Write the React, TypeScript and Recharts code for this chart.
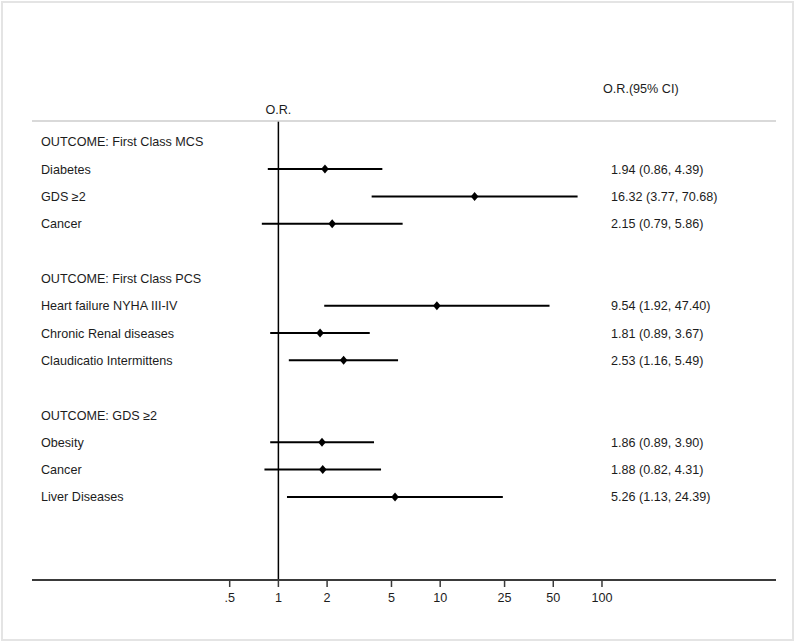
import React from 'react';
import {
  ScatterChart,
  Scatter,
  XAxis,
  YAxis,
  ErrorBar,
  ReferenceLine,
  Customized,
} from 'recharts';

const rowLabels = [
  'OUTCOME: First Class MCS',
  'Diabetes',
  'GDS ≥2',
  'Cancer',
  '',
  'OUTCOME: First Class PCS',
  'Heart failure NYHA III-IV',
  'Chronic Renal diseases',
  'Claudicatio Intermittens',
  '',
  'OUTCOME: GDS ≥2',
  'Obesity',
  'Cancer',
  'Liver Diseases',
];

const oddsRatios = [null, 1.94, 16.32, 2.15, null, null, 9.54, 1.81, 2.53, null, null, 1.86, 1.88, 5.26];
const ciLower = [null, 0.86, 3.77, 0.79, null, null, 1.92, 0.89, 1.16, null, null, 0.89, 0.82, 1.13];
const ciUpper = [null, 4.39, 70.68, 5.86, null, null, 47.4, 3.67, 5.49, null, null, 3.9, 4.31, 24.39];

const xTicks = [0.5, 1, 2, 5, 10, 25, 50, 100];

const FONT = '"Liberation Sans", Arial, Helvetica, sans-serif';
const TEXT = '#1c1c1c';
const FS = 12.6;

const points = rowLabels
  .map((label, i) => ({ row: i, label, or: oddsRatios[i], lo: ciLower[i], hi: ciUpper[i] }))
  .filter((d) => d.or != null) as { row: number; label: string; or: number; lo: number; hi: number }[];

const fmt = (v: number) => v.toFixed(2);

// left label + right "O.R. (CI)" text, one tick per row
const RowTick = (props: any) => {
  const i = props.payload.value;
  const or = oddsRatios[i];
  return (
    <g fontFamily={FONT} fontSize={FS} fill={TEXT}>
      <text x={41} y={props.y} dy="0.36em" textAnchor="start">
        {rowLabels[i]}
      </text>
      {or != null && (
        <text x={611} y={props.y} dy="0.36em" textAnchor="start">
          {`${fmt(or)} (${fmt(ciLower[i] as number)}, ${fmt(ciUpper[i] as number)})`}
        </text>
      )}
    </g>
  );
};

const Diamond = (props: any) => {
  const { cx, cy } = props;
  return <polygon points={`${cx - 3.8},${cy} ${cx},${cy - 4.5} ${cx + 3.8},${cy} ${cx},${cy + 4.5}`} fill="#000" />;
};

const Header = () => (
  <text x={603} y={88} dy="0.36em" fontFamily={FONT} fontSize={FS} fill={TEXT}>
    O.R.(95% CI)
  </text>
);

export default function App() {
  return (
    <div style={{ position: 'absolute', left: 0, top: 0, width: 800, height: 643, background: '#fff' }}>
      <div
        style={{
          position: 'absolute',
          left: 1,
          top: 1,
          width: 789,
          height: 636,
          border: '2px solid #e4e4e4',
        }}
      />
      <div style={{ position: 'absolute', left: 0, top: 0 }}>
        <ScatterChart width={800} height={643} margin={{ top: 120, right: 24, bottom: 33, left: 31 }}>
          <XAxis
            type="number"
            dataKey="or"
            scale="log"
            domain={[0.03, 1190]}
            allowDataOverflow
            ticks={xTicks}
            tickFormatter={(v: number) => (v === 0.5 ? '.5' : String(v))}
            axisLine={{ stroke: '#3a3a3a', strokeWidth: 2 }}
            tickLine={{ stroke: '#3a3a3a', strokeWidth: 1.5 }}
            tickSize={7}
            tickMargin={6}
            height={30}
            tick={{ fill: TEXT, fontSize: FS, fontFamily: FONT }}
            interval={0}
          />
          <XAxis
            xAxisId="top"
            orientation="top"
            type="number"
            domain={[0, 1]}
            height={1}
            tick={false}
            tickLine={false}
            axisLine={{ stroke: '#cdcdcd', strokeWidth: 1.5 }}
          />
          <YAxis
            type="number"
            dataKey="row"
            reversed
            domain={[-0.76, 16.04]}
            allowDataOverflow
            ticks={rowLabels.map((_, i) => i)}
            interval={0}
            width={1}
            axisLine={false}
            tickLine={false}
            tick={<RowTick />}
          />
          <ReferenceLine
            x={1}
            stroke="#000"
            strokeWidth={1.5}
            label={{ value: 'O.R.', position: 'top', offset: 7, fill: TEXT, fontSize: FS, fontFamily: FONT }}
          />
          <Scatter data={points} shape={<Diamond />} isAnimationActive={false}>
            <ErrorBar
              direction="x"
              dataKey={(d: any) => [d.or - d.lo, d.hi - d.or]}
              width={0}
              stroke="#000"
              strokeWidth={2}
              isAnimationActive={false}
            />
          </Scatter>
          <Customized component={Header} />
        </ScatterChart>
      </div>
    </div>
  );
}
